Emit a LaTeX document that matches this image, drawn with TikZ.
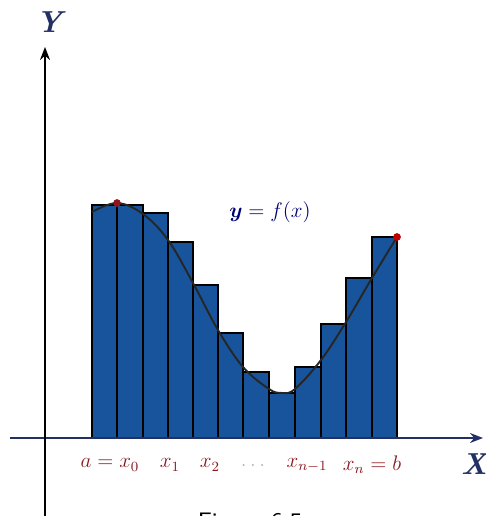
\documentclass[tikz,border=0pt]{standalone}
\usepackage{amsmath,amssymb}
\usepackage{xcolor}
\usepackage{tikz}
\usetikzlibrary{arrows.meta, positioning}

\definecolor{barblue}{RGB}{24,84,156}
\definecolor{lblred}{RGB}{140,24,30}
\definecolor{axisnavy}{RGB}{34,48,100}

\begin{document}
\begin{tikzpicture}[
  x=0.02cm, y=-0.02cm,
  bar/.style={fill=barblue, draw=black, line width=1.1pt},
  curve/.style={draw=black!85, line width=1.1pt},
  tick_lbl/.style={font=\large, text=lblred, inner sep=1pt},
  axis_lbl/.style={font=\LARGE\bfseries\itshape, text=axisnavy, inner sep=0pt},
  axis/.style={-{Stealth[length=2.6mm, width=2mm]}, line width=1pt}
]
  \useasboundingbox (0,0) rectangle (485,516);

  % Rectangles (upper sums)
  \draw[bar] (92,438) rectangle (117,205);
  \draw[bar] (117,438) rectangle (143,205);
  \draw[bar] (143,438) rectangle (168,213);
  \draw[bar] (168,438) rectangle (193,242);
  \draw[bar] (193,438) rectangle (218,285);
  \draw[bar] (218,438) rectangle (243,333);
  \draw[bar] (243,438) rectangle (269,372);
  \draw[bar] (269,438) rectangle (295,393);
  \draw[bar] (295,438) rectangle (321,367);
  \draw[bar] (321,438) rectangle (346,324);
  \draw[bar] (346,438) rectangle (372,278);
  \draw[bar] (372,438) rectangle (397,237);

  % Curve y = f(x)
  \draw[curve] plot[smooth, tension=0.6] coordinates {
    (92,212) (117,203) (143,214) (168,240) (193,283) (218,330)
    (243,367) (269,389) (282,393) (295,389) (321,360) (346,322)
    (372,278) (397,237)};
  \fill[lblred] (117,203) circle (2.2pt);
  \fill[red!75!black] (397,237) circle (2.2pt);
  \node[font=\large, text=blue!45!black] (fx) at (270,212) {$\boldsymbol{y}=f(x)$};

  % Axes
  \coordinate (xstart) at (10,438);
  \coordinate (xend) at (483,438);
  \coordinate (ystart) at (45,530);
  \coordinate (yend) at (45,47);
  \draw[axis, draw=axisnavy] (xstart) -- (xend);
  \draw[axis, draw=black] (ystart) -- (yend);
  \node[axis_lbl] (ylbl) at (49,22) {Y};
  \node[axis_lbl] (xlbl) at (474,464) {X};

  % Partition points
  \node[tick_lbl] (x0) at (110,465) {$a = x_0$};
  \node[tick_lbl] (x1) at (170,465) {$x_1$};
  \node[tick_lbl] (x2) at (210,465) {$x_2$};
  \node[tick_lbl, text=black!30] (dots) at (253,465) {$\ldots$};
  \node[tick_lbl] (xn1) at (307,465) {$x_{n-1}$};
  \node[tick_lbl] (xn) at (372,465) {$x_n = b$};

  % Caption (cut off at the bottom edge)
  \node[font=\Large\sffamily, anchor=north, inner sep=0pt] (cap) at (250,513) {Figure 6.5};
\end{tikzpicture}
\end{document}
